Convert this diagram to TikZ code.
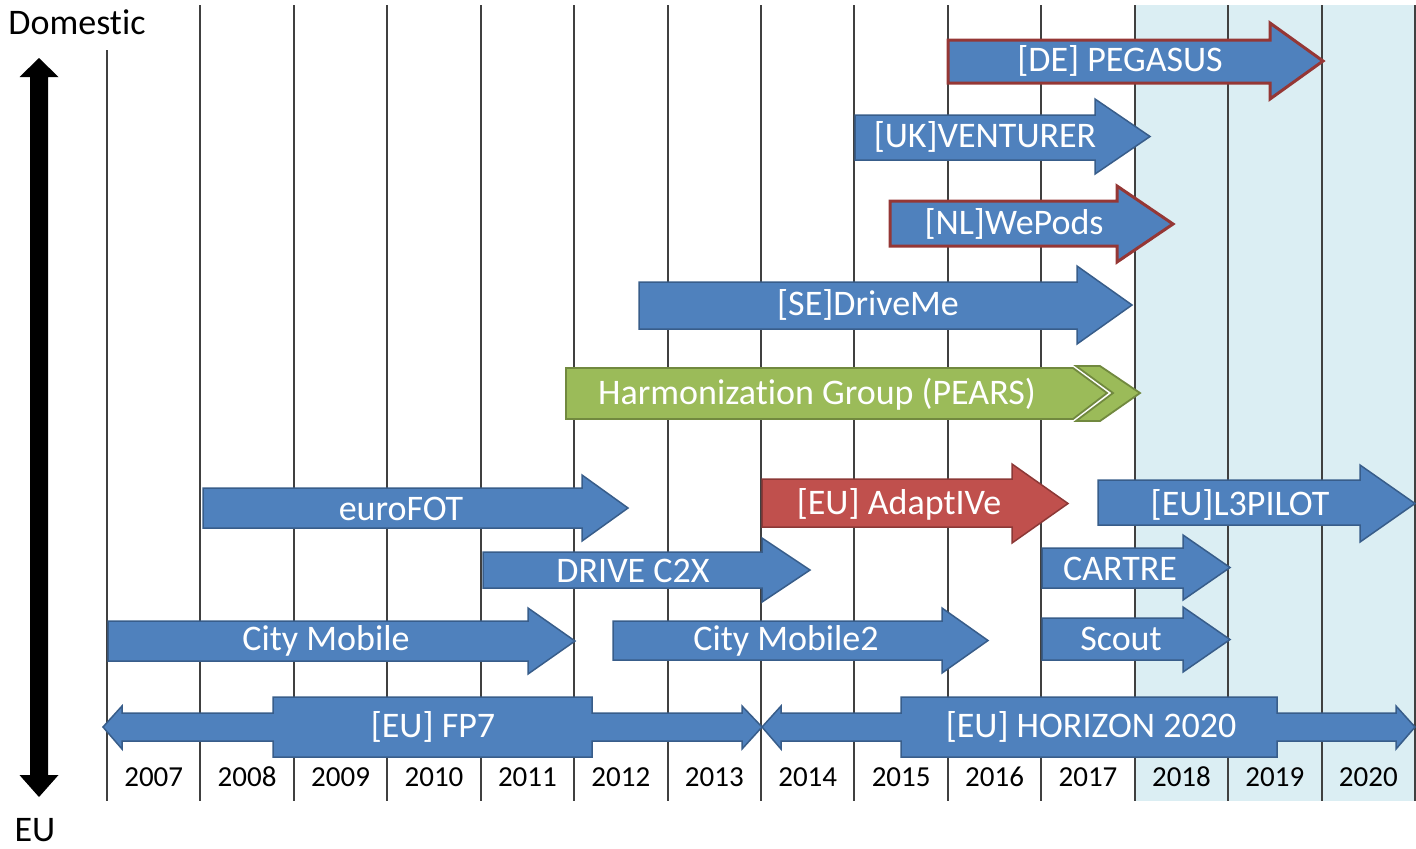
\documentclass[tikz,border=0pt]{standalone}
\usepackage{fontspec}
\setmainfont{Carlito}[Ligatures=NoCommon]
\definecolor{barblue}{HTML}{4F81BD}
\definecolor{barblueedge}{HTML}{385D8A}
\definecolor{barred}{HTML}{C0504D}
\definecolor{barrededge}{HTML}{8C3836}
\definecolor{darkrededge}{HTML}{953735}
\definecolor{bargreen}{HTML}{9BBB59}
\definecolor{bargreenedge}{HTML}{71893F}
\definecolor{futurebg}{HTML}{DBEEF3}
\definecolor{gridgray}{HTML}{404040}
\newcommand\barrow[8]{% style, xl, shaft top, shaft bottom, head base x, head top, head bottom, tip x
  \draw[#1] (#2,#3) -- (#5,#3) -- (#5,#6) -- (#8,{(#6+#7)/2}) -- (#5,#7) -- (#5,#4) -- (#2,#4) -- cycle;}
\tikzset{
  gridline/.style={draw=gridgray, line width=1pt},
  bluebar/.style={fill=barblue, draw=barblueedge, line width=0.75pt, line join=miter},
  redrim/.style={fill=barblue, draw=darkrededge, line width=1.5pt, line join=miter},
  redbar/.style={fill=barred, draw=barrededge, line width=0.75pt, line join=miter},
  greenbar/.style={fill=bargreen, draw=bargreenedge, line width=0.9pt, line join=miter},
  barlabel/.style={text=white, font=\fontsize{18}{20}\selectfont, inner sep=0pt},
  yearlabel/.style={text=black, font=\fontsize{14.5}{16}\selectfont, inner sep=0pt},
  axislabel/.style={text=black, font=\fontsize{18}{20}\selectfont, inner sep=0pt},
}
\begin{document}
\begin{tikzpicture}[x=0.5pt,y=-0.5pt]
\useasboundingbox (0,0) rectangle (1416,848);
% future shading
\fill[futurebg] (1135,5) rectangle (1415,801);
% grid lines
\draw[gridline] (107,50) -- (107,801);
\foreach \i in {1,...,14} \draw[gridline] ({107+93.43*\i},5) -- ({107+93.43*\i},801);
% year labels
\foreach \yr [count=\i from 0] in {2007,...,2020}
  \node[yearlabel] (y\yr) at ({153.7+93.43*\i},777) {\yr};
% Domestic / EU axis
\fill[black] (39,58) -- (58.5,77) -- (48,77) -- (48,775) -- (58.5,775) -- (39,797) -- (19.5,775) -- (30,775) -- (30,77) -- (19.5,77) -- cycle;
\node[axislabel] (domestic) at (77,22) {Domestic};
\node[axislabel] (eu) at (35,830) {EU};

% bars
\barrow{redrim}{948}{40}{83}{1270}{23}{99}{1323}
\node[barlabel] (pegasus) at (1120,61) {[DE] PEGASUS};

\barrow{bluebar}{855}{115}{160}{1095}{99}{174}{1150}
\node[barlabel] (venturer) at (985,137) {[UK]VENTURER};

\barrow{redrim}{890}{201}{246}{1117}{186}{262}{1173}
\node[barlabel] (wepods) at (1014,224) {[NL]WePods};

\barrow{bluebar}{639}{282}{329}{1077}{266}{344}{1132}
\node[barlabel] (driveme) at (868,305) {[SE]DriveMe};

% harmonization group (green chevron)
\draw[greenbar] (566,368) -- (1073,368) -- (1107,393) -- (1073,419) -- (566,419) -- cycle;
\draw[greenbar] (1076,366) -- (1100,366) -- (1140,393) -- (1100,421) -- (1076,421) -- (1113,393) -- cycle;
\node[barlabel] (pears) at (817,394) {Harmonization Group (PEARS)};

\barrow{bluebar}{203}{488}{528}{582}{475}{541}{628}
\node[barlabel] (eurofot) at (401,509) {euroFOT};

\barrow{redbar}{762}{479}{527}{1012}{464}{543}{1068}
\node[barlabel] (adaptive) at (899,504) {[EU] AdaptIVe};

\barrow{bluebar}{1098}{480}{525}{1360}{465}{542}{1415}
\node[barlabel] (l3pilot) at (1240,505) {[EU]L3PILOT};

\barrow{bluebar}{483}{552}{588}{762}{538}{602}{810}
\node[barlabel] (drivec2x) at (633,571) {DRIVE C2X};

\barrow{bluebar}{1042}{548}{588}{1183}{535}{600}{1230}
\node[barlabel] (cartre) at (1120,569) {CARTRE};

\barrow{bluebar}{108}{621}{661}{528}{608}{674}{575}
\node[barlabel] (citymobile) at (326,641) {City Mobile};

\barrow{bluebar}{613}{621}{660}{942}{608}{673}{988}
\node[barlabel] (citymobile2) at (786,641) {City Mobile2};

\barrow{bluebar}{1042}{618}{660}{1183}{607}{672}{1230}
\node[barlabel] (scout) at (1121,639) {Scout};

% framework programmes (double arrows with box)
\draw[bluebar] (103,727) -- (122,706) -- (122,713) -- (273,713) -- (273,697) -- (592,697) -- (592,713)
  -- (742,713) -- (742,706) -- (762,727) -- (742,749) -- (742,741) -- (592,741) -- (592,757)
  -- (273,757) -- (273,741) -- (122,741) -- (122,749) -- cycle;
\node[barlabel] (fp7) at (433,727) {[EU] FP7};

\draw[bluebar] (762,727) -- (781,706) -- (781,713) -- (901,713) -- (901,697) -- (1277,697) -- (1277,713)
  -- (1396,713) -- (1396,706) -- (1415,727) -- (1396,749) -- (1396,741) -- (1277,741) -- (1277,757)
  -- (901,757) -- (901,741) -- (781,741) -- (781,749) -- cycle;
\node[barlabel] (horizon) at (1091,727) {[EU] HORIZON 2020};
\end{tikzpicture}
\end{document}
